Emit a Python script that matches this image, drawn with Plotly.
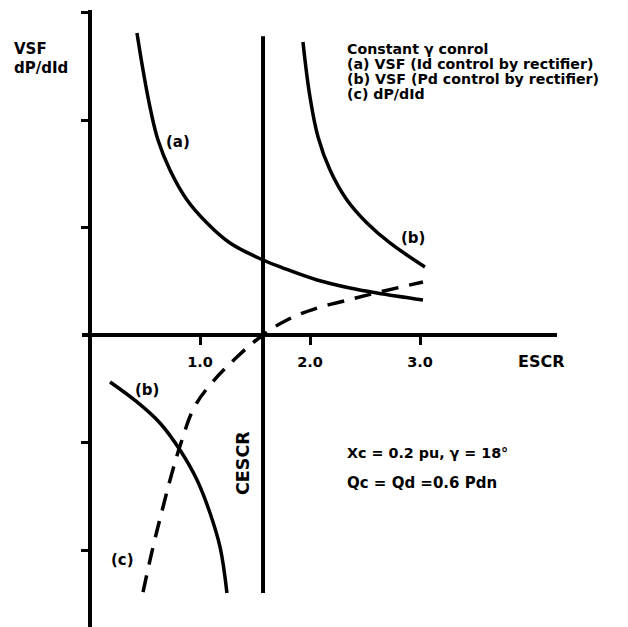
import plotly.graph_objects as go

# ---- data ----
a_x = [0.427, 0.482, 0.545, 0.618, 0.727, 0.882, 1.064, 1.273, 1.573, 1.755, 2.064, 2.364, 2.609, 3.027]
a_y = [2.809, 2.465, 2.121, 1.814, 1.535, 1.256, 1.042, 0.856, 0.698, 0.623, 0.512, 0.437, 0.391, 0.326]

b_up_x = [1.936, 2.0, 2.073, 2.182, 2.336, 2.518, 2.727, 3.045]
b_up_y = [2.726, 2.214, 1.842, 1.535, 1.256, 1.042, 0.856, 0.633]

b_lo_x = [0.182, 0.427, 0.636, 0.818, 0.973, 1.091, 1.182, 1.245]
b_lo_y = [-0.437, -0.623, -0.819, -1.070, -1.349, -1.656, -1.972, -2.400]

c_x = [0.482, 0.573, 0.664, 0.745, 0.836, 0.945, 1.091, 1.336, 1.573, 1.791, 2.064, 2.273, 2.636, 3.027]
c_y = [-2.391, -1.972, -1.600, -1.284, -0.977, -0.680, -0.465, -0.205, 0.0, 0.140, 0.251, 0.307, 0.400, 0.493]

cescr_x = 1.573
cescr_y = [-2.40, 2.78]

x_tickvals = [1, 2, 3]
x_ticktext = ["1.0", "2.0", "3.0"]
y_tickvals = [-2, -1, 1, 2, 3]

legend_lines = [
    "Constant γ conrol",
    "(a) VSF (Id control by rectifier)",
    "(b) VSF (Pd control by rectifier)",
    "(c) dP/dId",
]
param_lines = ["Xc = 0.2 pu, γ = 18°", "Qc = Qd =0.6 Pdn"]

W, H = 628, 627
FONT = "DejaVu Sans, Liberation Sans, Arial, sans-serif"

fig = go.Figure()
line_style = dict(color="black", width=3.5, shape="spline", smoothing=1.1)
fig.add_trace(go.Scatter(x=a_x, y=a_y, mode="lines", line=line_style, hoverinfo="skip"))
fig.add_trace(go.Scatter(x=b_up_x, y=b_up_y, mode="lines", line=line_style, hoverinfo="skip"))
fig.add_trace(go.Scatter(x=b_lo_x, y=b_lo_y, mode="lines", line=line_style, hoverinfo="skip"))
fig.add_trace(go.Scatter(x=c_x, y=c_y, mode="lines",
                         line=dict(color="black", width=3.5, shape="spline", smoothing=1.2,
                                   dash="17px,11px"),
                         hoverinfo="skip"))
fig.add_trace(go.Scatter(x=[cescr_x, cescr_x], y=cescr_y, mode="lines",
                         line=dict(color="black", width=4), hoverinfo="skip"))

x0px, x1px = 82, 557
fig.update_layout(
    width=W, height=H,
    margin=dict(l=0, r=0, t=0, b=0),
    paper_bgcolor="white", plot_bgcolor="white",
    showlegend=False,
    xaxis=dict(
        domain=[x0px / W, x1px / W],
        range=[(x0px - 90) / 110, (x1px - 90) / 110],
        anchor="free", position=(H - 335) / H,
        showline=True, linewidth=4, linecolor="black",
        ticks="outside", ticklen=8, tickwidth=3, tickcolor="black",
        tickvals=x_tickvals, ticktext=["<b>%s</b>" % t for t in x_ticktext],
        tickfont=dict(family=FONT, size=14.5, color="black"),
        ticklabelstandoff=5,
        showgrid=False, zeroline=False,
    ),
    yaxis=dict(
        domain=[0, (H - 10) / H],
        range=[(335 - 627) / 107.5, (335 - 10) / 107.5],
        anchor="free", position=90 / W,
        showline=True, linewidth=4, linecolor="black",
        ticks="outside", ticklen=7, tickwidth=3, tickcolor="black",
        tickvals=y_tickvals, showticklabels=False,
        showgrid=False, zeroline=False,
    ),
)

def px_ann(text, x, y, size=15, xanchor="center", angle=0):
    fig.add_annotation(text="<b>%s</b>" % text, xref="paper", yref="paper",
                       x=x / W, y=1 - y / H, xanchor=xanchor, yanchor="middle",
                       showarrow=False, textangle=angle, borderpad=0,
                       font=dict(family=FONT, size=size, color="black"))

px_ann("VSF", 13, 49, xanchor="left")
px_ann("dP/dId", 13, 68, xanchor="left")
px_ann("ESCR", 541, 361, size=16)
px_ann("CESCR", 243, 463, size=17.5, angle=-90)
px_ann("(a)", 178, 142)
px_ann("(b)", 413, 238)
px_ann("(b)", 147, 390)
px_ann("(c)", 122, 560)
for i, t in enumerate(legend_lines):
    px_ann(t, 346, 49 + i * 15, size=14.2, xanchor="left")
px_ann(param_lines[0], 346, 453, size=14.3, xanchor="left")
px_ann(param_lines[1], 346, 483, size=15, xanchor="left")

fig.write_html("out.html")
